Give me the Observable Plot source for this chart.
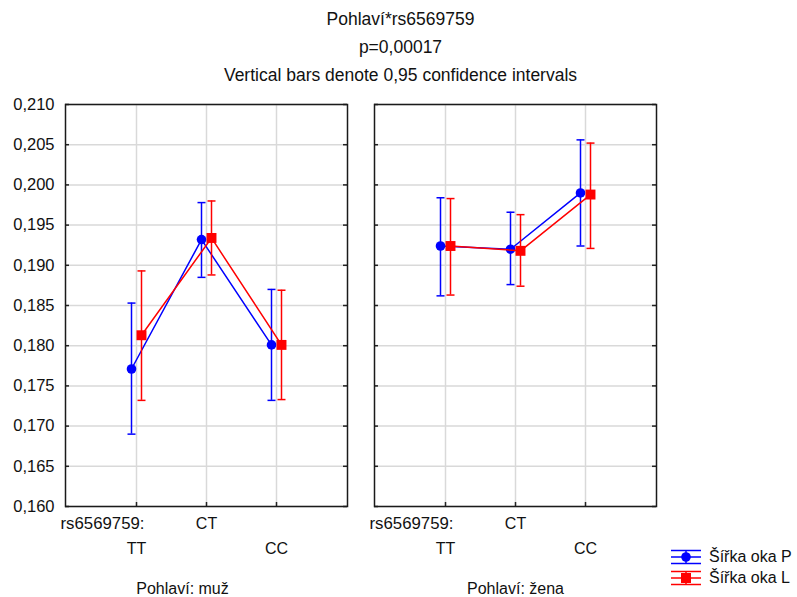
<!DOCTYPE html>
<html>
<head>
<meta charset="utf-8">
<script src="https://cdn.jsdelivr.net/npm/d3@7"></script>
<script src="https://cdn.jsdelivr.net/npm/@observablehq/plot@0.6"></script>
<style>
  body { margin: 0; background: #fff; }
  #wrap { position: relative; width: 797px; height: 597px; font-family: Arial, "Liberation Sans", sans-serif; color: #111; overflow: hidden; }
  .t { position: absolute; left: 2px; width: 797px; text-align: center; font-size: 17.5px; line-height: 28px; }
  #chart { position: absolute; left: 0; top: 88px; }
  #legend { position: absolute; left: 670px; top: 546px; font-size: 16px; }
</style>
</head>
<body>
<div id="wrap">
  <div class="t" style="top:5px">Pohlaví*rs6569759</div>
  <div class="t" style="top:33px">p=0,00017</div>
  <div class="t" style="top:61px">Vertical bars denote 0,95 confidence intervals</div>
  <div id="chart"></div>
  <div id="legend"></div>
</div>
<script>
// ---- data ----
const genotypes = ["TT", "CT", "CC"];
const sexes = ["muž", "žena"];
const seriesNames = ["Šířka oka P", "Šířka oka L"];
const yTicks = [0.160, 0.165, 0.170, 0.175, 0.180, 0.185, 0.190, 0.195, 0.200, 0.205, 0.210];

// Šířka oka P (blue): per sex, per genotype TT, CT, CC
const pMean = { "muž": [0.1771, 0.1932, 0.1801], "žena": [0.1924, 0.1920, 0.1990] };
const pLow  = { "muž": [0.1690, 0.1885, 0.1732], "žena": [0.1862, 0.1876, 0.1924] };
const pHigh = { "muž": [0.1853, 0.1978, 0.1870], "žena": [0.1984, 0.1966, 0.2056] };

// Šířka oka L (red)
const lMean = { "muž": [0.1813, 0.1934, 0.1801], "žena": [0.1924, 0.1918, 0.1988] };
const lLow  = { "muž": [0.1732, 0.1888, 0.1733], "žena": [0.1863, 0.1874, 0.1921] };
const lHigh = { "muž": [0.1893, 0.1980, 0.1869], "žena": [0.1983, 0.1963, 0.2052] };

function rows(mean, low, high) {
  const out = [];
  for (const s of sexes) genotypes.forEach((g, i) => out.push({sex: s, g, mean: mean[s][i], lo: low[s][i], hi: high[s][i]}));
  return out;
}
const pRows = rows(pMean, pLow, pHigh);
const lRows = rows(lMean, lLow, lHigh);

const styles = [
  {data: pRows, color: "#0000ff", dx: -5, symbol: "circle", r: 4.8},
  {data: lRows, color: "#ff0000", dx: 5, symbol: "square", r: 5.6}
];

// horizontal cap symbol for error bars
const capSymbol = { draw(ctx) { ctx.moveTo(-4, 0); ctx.lineTo(4, 0); } };

function seriesMarks(st) {
  const common = {x: "g", fx: "sex", dx: st.dx, stroke: st.color};
  return [
    Plot.ruleX(st.data, {...common, y1: "lo", y2: "hi", strokeWidth: 1.5}),
    Plot.dot(st.data, {...common, y: "lo", symbol: capSymbol, fill: "none", strokeWidth: 1.5}),
    Plot.dot(st.data, {...common, y: "hi", symbol: capSymbol, fill: "none", strokeWidth: 1.5}),
    Plot.line(st.data, {...common, y: "mean", strokeWidth: 1.5}),
    Plot.dot(st.data, {x: "g", fx: "sex", dx: st.dx, y: "mean", symbol: st.symbol, r: st.r, fill: st.color, stroke: "none"})
  ];
}

const fmt = d => d.toFixed(3).replace(".", ",");
const facetLabel = (s, dx) => Plot.text([s], {fx: d => d, text: d => "Pohlaví: " + d, frameAnchor: "bottom", lineAnchor: "top", dy: 76, dx, fontSize: 16, fill: "#111"});

const chart = Plot.plot({
  width: 797,
  height: 509,
  marginLeft: 65,
  marginRight: 141,
  marginTop: 16,
  marginBottom: 91,
  style: {fontFamily: "Arial, 'Liberation Sans', sans-serif", fontSize: "16px", color: "#111", background: "transparent", overflow: "visible"},
  fx: {domain: sexes, axis: null, paddingInner: 0.0874, paddingOuter: 0},
  x: {type: "point", domain: genotypes, padding: 1},
  y: {domain: [0.160, 0.210]},
  marks: [
    Plot.gridY({ticks: yTicks, stroke: "#d9d9d9", strokeOpacity: 1, strokeWidth: 1.5}),
    Plot.gridX({ticks: genotypes, stroke: "#d9d9d9", strokeOpacity: 1, strokeWidth: 1.5}),
    Plot.tickY(yTicks, {y: d => d, insetRight: 278, stroke: "#222", strokeWidth: 1.5}),
    Plot.tickY(yTicks, {y: d => d, insetLeft: 278, stroke: "#222", strokeWidth: 1.5}),
    Plot.tickX(genotypes, {x: d => d, insetTop: 398, stroke: "#222", strokeWidth: 1.5}),
    Plot.frame({stroke: "#1a1a1a", strokeWidth: 1.5}),
    Plot.axisY({ticks: yTicks, tickFormat: fmt, tickSize: 0, tickPadding: 11, label: null, fontSize: 16.5, fill: "#111"}),
    Plot.axisX({ticks: ["CT"], tickSize: 0, tickPadding: 11, label: null, fontSize: 16, fill: "#111"}),
    Plot.axisX({ticks: ["TT", "CC"], tickSize: 0, tickPadding: 36, label: null, fontSize: 16, fill: "#111"}),
    Plot.text(["TT"], {x: d => d, text: () => "rs6569759:", frameAnchor: "bottom", lineAnchor: "top", dy: 11, dx: 8, textAnchor: "end", fontSize: 16.8, fill: "#111"}),
    facetLabel(sexes[0], -24),
    facetLabel(sexes[1], 0),
    ...seriesMarks(styles[0]),
    ...seriesMarks(styles[1])
  ]
});
document.getElementById("chart").appendChild(chart);

// legend
const leg = document.getElementById("legend");
leg.innerHTML = styles.map((st, i) => {
  const m = st.symbol === "circle"
    ? `<circle cx="16" cy="10" r="4.8" fill="${st.color}"/>`
    : `<rect x="11" y="5" width="10" height="10" fill="${st.color}"/>`;
  return `<div style="display:flex;align-items:center;height:21px;">
    <svg width="34" height="20" style="margin-right:5px">
      <g stroke="${st.color}" stroke-width="1.5">
        <line x1="1" x2="31" y1="3.5" y2="3.5"/>
        <line x1="1" x2="31" y1="10" y2="10"/>
        <line x1="1" x2="31" y1="16.5" y2="16.5"/>
        <line x1="16" x2="16" y1="3.5" y2="16.5"/>
      </g>${m}
    </svg><span>${seriesNames[i]}</span></div>`;
}).join("");
</script>
</body>
</html>
